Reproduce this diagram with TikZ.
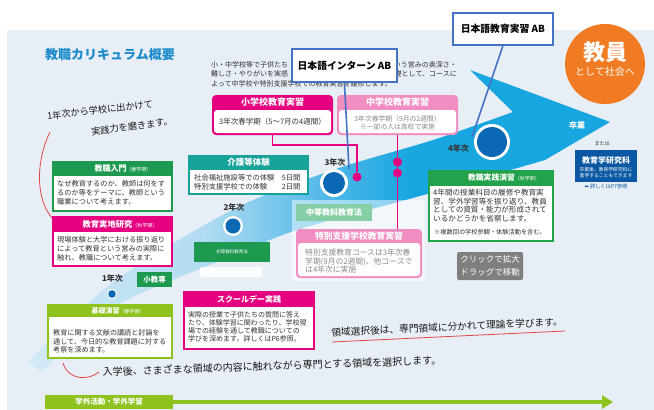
\documentclass[tikz,border=0pt]{standalone}
\usepackage{fontspec}
\setmainfont{Noto Sans CJK JP}
\newfontfamily\dejavu{DejaVu Sans}
\usetikzlibrary{arrows.meta}
\newcommand{\fs}[2]{\fontsize{#1}{#2}\selectfont}
\definecolor{cBg}{HTML}{E8EEF5}
\definecolor{cGreen}{HTML}{1E9A50}
\definecolor{cGreenB}{HTML}{22A24A}
\definecolor{cMag}{HTML}{E4007F}
\definecolor{cPink}{HTML}{F08EC2}
\definecolor{cTealC}{HTML}{17A39A}
\definecolor{cYG}{HTML}{8DC21F}
\definecolor{cLG}{HTML}{86CFA6}
\definecolor{cDot}{HTML}{0B68B5}
\definecolor{cBlueLine}{HTML}{4472C4}
\definecolor{cOrange}{HTML}{F07B22}
\definecolor{cNavy}{HTML}{0A58A3}
\definecolor{cTitle}{HTML}{1D8BCB}
\definecolor{cRed}{HTML}{E04646}
\definecolor{cGray}{HTML}{7F7F7F}
\definecolor{cTxt}{HTML}{333333}
\definecolor{cGrayTxt}{HTML}{8A8A8A}
\definecolor{bandA}{HTML}{D3E9F7}
\definecolor{bandB}{HTML}{B2DCF2}
\definecolor{bandC}{HTML}{4DB7E8}
\definecolor{bandD}{HTML}{17A6E0}
\pgfdeclarehorizontalshading{bandshade}{100bp}{color(0bp)=(bandA); color(25bp)=(bandA); color(40bp)=(bandB); color(51bp)=(bandC); color(58bp)=(bandD); color(100bp)=(bandD)}
\begin{document}
\begin{tikzpicture}[x=1pt,y=-1pt,
  boxo/.style={fill=#1, anchor=north west, inner sep=0pt, outer sep=0pt},
  htext/.style={text=white, font=\bfseries\fs{8}{9}, inner sep=0pt},
  btext/.style={anchor=north west, align=left, inner sep=0pt, text=cTxt},
  yr/.style={font=\bfseries\fs{8}{9}, text=cTxt, inner sep=0pt},
  ring/.style={circle, fill=white, inner sep=0pt},
  core/.style={circle, fill=cDot, inner sep=0pt},
  mdot/.style={circle, fill=cMag, inner sep=0pt, minimum size=9pt},
  hand/.style={text=black!90, inner sep=0pt},
  conn/.style={draw=cMag, line width=1.4pt},
  callout/.style={draw=cBlueLine, line width=1.8pt, fill=white, anchor=north west, inner sep=0pt, font=\bfseries\fs{9.8}{11}},
  redline/.style={draw=cRed, line width=0.8pt}
]
\useasboundingbox (0,0) rectangle (654,410);
\fill[white] (0,0) rectangle (654,410);
\fill[cBg] (7,30) rectangle (654,410);

% big curved arrow
\shade[shading=bandshade] plot[smooth] coordinates {(28,362) (112,283) (232,210) (333,170) (433,140) (513,112)} -- (470,70) -- (610,122) -- plot[smooth] coordinates {(545,160) (420,196) (300,229) (232,256) (112,308) (42,372)} -- cycle;
\fill[white, opacity=0.5] (292,200) rectangle (425,281);

% title and intro
\node[font=\bfseries\fs{13}{14}, text=cTitle, inner sep=0pt] (title) at (110,55) {教職カリキュラム概要};
\node[anchor=west, font=\fs{7}{8}, text=cTxt, inner sep=0pt] (p1a) at (211,65) {小・中学校等で子供たち};
\node[anchor=east, font=\fs{7}{8}, text=cTxt, inner sep=0pt] (p1b) at (457,65) {いう営みの奥深さ・};
\node[anchor=west, font=\fs{7}{8}, text=cTxt, inner sep=0pt] (p2a) at (211,74) {難しさ・やりがいを実感};
\node[anchor=east, font=\fs{7}{8}, text=cTxt, inner sep=0pt] (p2b) at (457,74) {礎として、コースに};
\node[anchor=west, font=\fs{7}{8}, text=cTxt, inner sep=0pt] (p3) at (211,84) {よって中学校や特別支援学校での教育実習を履修します。};

% handwriting notes
\node[hand, font=\fs{9.2}{10}, rotate=6.6] (h1) at (100,110) {1年次から学校に出かけて};
\node[hand, font=\fs{9.2}{10}, rotate=7.4] (h2) at (132,126.5) {実践力を磨きます。};
\coordinate (ra1) at (50,132);
\coordinate (ra2) at (53,219);
\draw[redline] (ra1) .. controls (36,160) and (35,200) .. (ra2);

% 教職入門
\node[boxo=cGreen, minimum width=121pt, minimum height=51pt] (nyumon) at (52,161) {};
\fill[white] (54,176) rectangle (171,210);
\node[htext] (nyumonH) at (123,168.5) {教職入門\fs{5}{6}\mdseries（春学期）};
\node[btext, font=\fs{7.2}{9}] (nyumonB) at (57,180.4) {なぜ教育するのか、教師は何をす\\るのか等をテーマに、教師という\\職業について考えます。};

% 教育実地研究
\node[boxo=cMag, minimum width=121pt, minimum height=51pt] (jicchi) at (52,216) {};
\fill[white] (54,232) rectangle (171,265);
\node[htext, font=\bfseries\fs{8.3}{9}] (jicchiH) at (120,224) {教育実地研究\fs{5}{6}\mdseries（秋学期）};
\node[btext, font=\fs{7.2}{9}] (jicchiB) at (57,236.4) {現場体験と大学における振り返り\\によって教育という営みの実際に\\触れ、教職について考えます。};

% 小教専
\node[boxo=cGreen, minimum width=35pt, minimum height=15pt, text=white, font=\bfseries\fs{7.5}{8}] (shokyo) at (137,272) {小教専};

% 基礎演習
\node[boxo=cYG, minimum width=126pt, minimum height=55pt] (kiso) at (47,304) {};
\fill[white] (49,317) rectangle (171,357);
\node[htext, font=\bfseries\fs{7}{8}] (kisoH) at (118,310.5) {基礎演習\fs{5}{6}\mdseries（春学期）};
\node[btext, font=\fs{7.1}{8.6}] (kisoB) at (53,329.5) {教育に関する文献の講読と討論を\\通して、今日的な教育課題に対する\\考察を深めます。};

% スクールデー実践
\node[boxo=cMag, minimum width=132pt, minimum height=59pt] (school) at (183,291) {};
\fill[white] (185,307) rectangle (313,348);
\node[htext] (schoolH) at (249,299) {スクールデー実践};
\node[btext, font=\fs{7}{7.8}] (schoolB) at (188,311.5) {実際の授業で子供たちの質問に答え\\たり、体験学習に関わったり、学校現\\場での経験を通して教職についての\\学びを深めます。詳しくはP6参照。};

% 介護等体験
\node[boxo=cTealC, minimum width=121pt, minimum height=40pt] (kaigo) at (188,155) {};
\fill[white] (190,170) rectangle (307,193);
\node[htext, font=\bfseries\fs{8.5}{9}] (kaigoH) at (248.5,162.5) {介護等体験};
\node[btext, font=\fs{7.3}{9}] (kaigoB) at (194,174.4) {社会福祉施設等での体験　5日間\\特別支援学校での体験　　2日間};

% small green box (2nd year)
\node[boxo=cGreen, minimum width=76pt, minimum height=20pt, text=white, font=\fs{4.5}{5}] (shoto) at (194,242) {初等教科教育法};
\fill[white, opacity=0.85, rounded corners=2pt] (200,267) rectangle (262,277);

% 小学校教育実習
\node[boxo=cMag, rounded corners=4pt, minimum width=121pt, minimum height=40pt] (sho) at (212,95) {};
\fill[white, rounded corners=3pt] (214,110) rectangle (331,133);
\node[htext, font=\bfseries\fs{9}{10}] (shoH) at (272.5,102.5) {小学校教育実習};
\node[inner sep=0pt, font=\fs{7.5}{8}, text=cTxt] (shoB) at (272.5,122) {3年次春学期（5～7月の4週間）};

% 中学校教育実習
\node[boxo=cPink, rounded corners=4pt, minimum width=121pt, minimum height=40pt] (chu) at (337,95) {};
\fill[white, rounded corners=3pt] (339,110) rectangle (456,133);
\node[htext, font=\bfseries\fs{9}{10}] (chuH) at (397.5,102.5) {中学校教育実習};
\node[inner sep=0pt, align=center, font=\fs{6.8}{7.8}, text=cGrayTxt] (chuB) at (397.5,122.5) {3年次春学期（9月の2週間）\\※一部の人は高校で実施};

% 中等教科教育法
\node[boxo=cLG, minimum width=76pt, minimum height=17pt, text=white, font=\bfseries\fs{8}{9}] (chutou) at (296,204) {中等教科教育法};

% 特別支援学校教育実習
\node[boxo=cPink, rounded corners=4pt, minimum width=126pt, minimum height=49pt] (toku) at (296,229) {};
\fill[white, rounded corners=3pt] (298,243) rectangle (420,276);
\node[htext, font=\bfseries\fs{8.8}{10}] (tokuH) at (359,236) {特別支援学校教育実習};
\node[btext, font=\fs{7.8}{8.5}, text=cGrayTxt] (tokuB) at (305,249.1) {特別支援教育コースは3年次春\\学期(9月の2週間)、他コースで\\は4年次に実施};

% 教職実践演習
\node[boxo=cGreenB, minimum width=126pt, minimum height=72pt] (jissen) at (428,170) {};
\fill[white] (430,186) rectangle (552,240);
\node[htext, font=\bfseries\fs{7.8}{9}] (jissenH) at (504,178) {教職実践演習\fs{5}{6}\mdseries（秋学期）};
\node[btext, font=\fs{7.6}{8.4}] (jissenB) at (433,189.2) {4年間の授業科目の履修や教育実\\習、学外学習等を振り返り、教員\\としての資質・能力が形成されて\\いるかどうかを省察します。};
\node[btext, font=\fs{6.2}{7}] (jissenN) at (434,229) {※複数回の学校参観・体験活動を含む。};

% click box
\node[boxo=cGray, rounded corners=2pt, minimum width=66pt, minimum height=28pt, text=white, align=center, font=\fs{8.5}{13}] (click) at (457,252) {クリックで拡大\\ドラッグで移動};

% orange circle
\node[circle, fill=cOrange, minimum size=80pt, inner sep=0pt] (kyoin) at (605,64) {};
\node[text=white, font=\bfseries\fs{22}{24}, inner sep=0pt] (kyoinT) at (605,52) {教員};
\node[text=white, font=\fs{10}{11}, inner sep=0pt] (kyoinS) at (605,72) {として社会へ};

% graduation
\node[text=white, font=\bfseries\fs{8}{9}, inner sep=0pt] (sotsu) at (577,125) {卒業};
\node[text=cTxt, font=\fs{5}{6}, inner sep=0pt] (matawa) at (602,144) {または};
\node[boxo=cNavy, minimum width=62pt, minimum height=32pt] (kenkyu) at (575,150) {};
\node[text=white, font=\bfseries\fs{8}{9}, inner sep=0pt] (kenkyuT) at (606,160) {教育学研究科};
\node[text=white, font=\fs{4.8}{6}, align=center, inner sep=0pt] (kenkyuS) at (606,173) {卒業後、教育学研究科に\\進学することもできます};
\node[text=cNavy, font=\fs{5.2}{6}, inner sep=0pt] (kenkyuR) at (606,187) {{\dejavu ➡} 詳しくはP7参照};

% magenta connectors and dots
\node[mdot] (m1) at (357,177) {};
\node[mdot] (m2) at (397.5,162) {};
\node[mdot] (m3) at (397.5,173) {};
\draw[conn] (sho.south) -- ++(0,10) -| (m1);
\draw[conn] (chu.south) -- (chu.south |- toku.north);

% year dots
\node[ring, minimum size=10pt] (d1w) at (112,294) {};
\node[core, minimum size=7.6pt] (d1) at (112,294) {};
\node[ring, minimum size=20pt] (d2w) at (233,226) {};
\node[core, minimum size=15pt] (d2) at (233,226) {};
\node[ring, minimum size=28pt] (d3w) at (334,183) {};
\node[core, minimum size=22pt] (d3) at (334,183) {};
\node[ring, minimum size=36pt] (d4w) at (492,142) {};
\node[core, minimum size=30pt] (d4) at (492,142) {};
\node[yr] (y1) at (112.5,278) {1年次};
\node[yr] (y2) at (234,207) {2年次};
\node[yr] (y3) at (335,162) {3年次};
\node[yr] (y4) at (458.5,148) {4年次};

% bottom notes
\coordinate (rb1) at (63,363);
\coordinate (rb2) at (99,372);
\draw[redline] (rb1) .. controls (68,380) and (88,381) .. (rb2);
\node[hand, font=\fs{10}{11}, rotate=2] (h3) at (272,366) {入学後、さまざまな領域の内容に触れながら専門とする領域を選択します。};
\node[hand, font=\fs{9.7}{11}, rotate=2.7] (h4) at (447,327) {領域選択後は、専門領域に分かれて理論を学びます。};
\coordinate (ul1) at (332,342);
\coordinate (ul2) at (565,331);
\draw[redline] (ul1) -- (ul2);

% 学外活動 bar
\node[boxo=cYG, minimum width=128pt, minimum height=14pt, text=white, font=\bfseries\fs{7.5}{8}] (gakugai) at (45,395) {学外活動・学外学習};
\coordinate (gEnd) at (613,402);
\draw[cYG, line width=3.5pt, -{Triangle[length=11pt,width=13pt]}] (gakugai.east) -- (gEnd);

% blue callouts
\node[callout, minimum width=105pt, minimum height=33pt] (intern) at (291,48) {日本語インターン AB};
\node[callout, minimum width=100pt, minimum height=32pt] (kjisshu) at (452,12) {日本語教育実習 AB};
\coordinate (internEnd) at (349,169);
\coordinate (kjEnd) at (472,137);
\draw[cBlueLine, line width=1.6pt] (intern.south) -- (internEnd);
\draw[cBlueLine, line width=1.6pt] (kjisshu.south) -- (kjEnd);
\end{tikzpicture}
\end{document}
